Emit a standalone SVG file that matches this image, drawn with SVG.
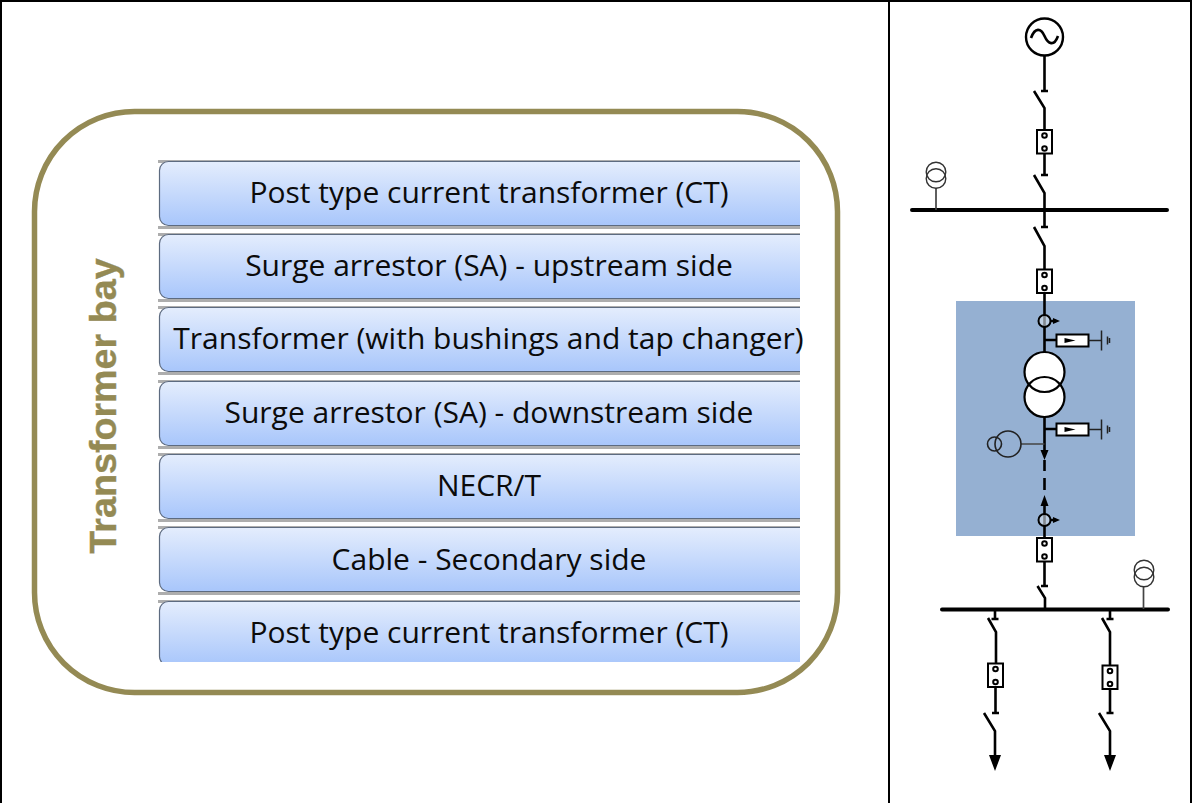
<svg xmlns="http://www.w3.org/2000/svg" xmlns:xlink="http://www.w3.org/1999/xlink" width="1192" height="803" viewBox="0 0 1192 803">
<style>
.bar{fill:url(#barfill);stroke:#5d6b80;stroke-width:1.2}
.shadow{fill:#8a8a8a;opacity:.7}
.t{font-family:"Open Sans","Noto Sans",sans-serif;font-size:30px;fill:#0b0b0b;text-anchor:middle}
.w{fill:none;stroke:#000;stroke-width:2.6}
.thin{fill:none;stroke:#333;stroke-width:1.4}
.box{fill:#fff;stroke:#000;stroke-width:2}
.bus{fill:none;stroke:#000;stroke-width:4;stroke-linecap:round}
.k{fill:#000}
.dot{fill:#fff;stroke:#000;stroke-width:2}
</style>
<defs>
<linearGradient id="barfill" x1="0" y1="0" x2="0" y2="1"><stop offset="0" stop-color="#e4edfd"/><stop offset="1" stop-color="#a8c6fb"/></linearGradient>
<clipPath id="clip"><rect x="150" y="150" width="650" height="512"/></clipPath>
<g id="fuse"><rect class="box" x="-7.500" y="0" width="15" height="23.500"/><circle class="dot" cx="0" cy="5.500" r="2.300"/><circle class="dot" cx="0" cy="18.500" r="2.300"/></g>
<g id="arr"><rect class="box" x="0" y="-6" width="32" height="12"/><path class="k" d="M8-2.500L19 0L8 2.500Z"/><path d="M32 0H45M45-10V10M51-4V4M53-2.500V2.500" fill="none" stroke="#222" stroke-width="1.500"/></g>
</defs>
<g id="frame" fill="none" stroke="#000" stroke-width="2"><path d="M1 803V1H1191V803M889 1V803"/></g>
<g id="transformer-bay">
<rect x="34.500" y="111.500" width="803" height="581" rx="100" fill="#fff" stroke="#948a54" stroke-width="5.500"/>
<text transform="translate(116 406) rotate(-90)" font-family="'Liberation Sans',sans-serif" font-weight="700" font-size="37.700" fill="#948a54" text-anchor="middle" stroke="#948a54" stroke-width=".4">Transformer bay</text>
</g>
<g clip-path="url(#clip)">
<g id="n1"><rect class="shadow" x="158" y="160" width="660" height="3"/><rect class="shadow" x="158" y="226" width="660" height="3"/><rect class="bar" x="159.500" y="161.500" width="660" height="64" rx="9"/><text class="t" x="489" y="203">Post type current transformer (CT)</text></g>
<g id="n2"><rect class="shadow" x="158" y="233" width="660" height="3"/><rect class="shadow" x="158" y="299" width="660" height="3"/><rect class="bar" x="159.500" y="234.500" width="660" height="64" rx="9"/><text class="t" x="489" y="276">Surge arrestor (SA) - upstream side</text></g>
<g id="n3"><rect class="shadow" x="158" y="306" width="660" height="3"/><rect class="shadow" x="158" y="372" width="660" height="3"/><rect class="bar" x="159.500" y="307.500" width="660" height="64" rx="9"/></g>
<g id="n4"><rect class="shadow" x="158" y="380" width="660" height="3"/><rect class="shadow" x="158" y="446" width="660" height="3"/><rect class="bar" x="159.500" y="381.500" width="660" height="64" rx="9"/><text class="t" x="489" y="423">Surge arrestor (SA) - downstream side</text></g>
<g id="n5"><rect class="shadow" x="158" y="453" width="660" height="3"/><rect class="shadow" x="158" y="519" width="660" height="3"/><rect class="bar" x="159.500" y="454.500" width="660" height="64" rx="9"/><text class="t" x="489" y="496">NECR/T</text></g>
<g id="n6"><rect class="shadow" x="158" y="526" width="660" height="3"/><rect class="shadow" x="158" y="592" width="660" height="3"/><rect class="bar" x="159.500" y="527.500" width="660" height="64" rx="9"/><text class="t" x="489" y="570">Cable - Secondary side</text></g>
<g id="n7"><rect class="shadow" x="158" y="600" width="660" height="3"/><rect class="bar" x="159.500" y="601.500" width="660" height="64" rx="9"/><text class="t" x="489" y="643">Post type current transformer (CT)</text></g>
</g>
<g id="n3-label"><text class="t" x="488.500" y="349">Transformer (with bushings and tap changer)</text></g>
<g id="bay-highlight"><rect x="956" y="301" width="179" height="235" fill="#95b0d2"/></g>
<g id="connectors">
<path class="w" d="M1044.500 55V91M1041 91H1048M1034 91L1044.500 108V130M1044.500 153V175M1041 175H1048M1034 175L1044.500 193V227M1041 227H1048M1034 227L1044.500 246V269M1044.500 293V354M1044.500 417V450M1044.500 460V471M1044.500 478V490M1044.500 505V538M1044.500 562V585M1041 586H1048M1037.500 586L1045 598V609M1044.500 340H1056M1044.500 429H1056"/>
<path class="w" d="M995 609V619M991.500 619H998.500M988 618L996 632V663M995.500 687V713M992 713H999M984 713L995 731V756M1110 609V619M1106.500 619H1113.500M1102 618L1110 632V665M1110 689V713M1106.500 713H1113.500M1099 713L1110 731V756"/>
<path class="bus" d="M912 210H1167M942 609.500H1168"/>
<path d="M936 188V210M1143.500 587V609M1021 444H1044.500" fill="none" stroke="#444" stroke-width="1.700"/>
<path class="k" d="M1040.500 450H1048.500L1044.500 460ZM1040.500 506H1048.500L1044.500 495ZM989 755H1001L995 771ZM1104 755H1116L1110 771Z"/>
<path class="w" d="M1051 321H1056M1051 520H1056"/>
<path class="k" d="M1053 318L1060 321L1053 324ZM1053 517L1060 520L1053 523Z"/>
</g>
<g id="generator"><circle cx="1044.500" cy="37" r="18.500" fill="#fff" stroke="#000" stroke-width="2.400"/><path class="w" d="M1031 38C1035 27 1041 28 1044.500 36S1054 47 1058 36"/></g>
<g id="vt-1"><circle class="thin" cx="936" cy="172" r="9.800"/><circle class="thin" cx="936" cy="178.500" r="9.800"/></g>
<g id="vt-2"><circle class="thin" cx="1144" cy="570" r="9.800"/><circle class="thin" cx="1144" cy="577" r="9.800"/></g>
<g id="cb-1"><use xlink:href="#fuse" x="1044.500" y="130"/></g>
<g id="cb-2"><use xlink:href="#fuse" x="1044.500" y="269.500"/></g>
<g id="cb-3"><use xlink:href="#fuse" x="1044.500" y="538"/></g>
<g id="cb-4"><use xlink:href="#fuse" x="995.500" y="663.500"/></g>
<g id="cb-5"><use xlink:href="#fuse" x="1110" y="665.500"/></g>
<g id="ct-1"><circle cx="1044.500" cy="321" r="6" fill="#d8e2ee" fill-opacity=".6" stroke="#000" stroke-width="2"/></g>
<g id="ct-2"><circle cx="1044.500" cy="520" r="6" fill="#d8e2ee" fill-opacity=".6" stroke="#000" stroke-width="2"/></g>
<g id="sa-1"><use xlink:href="#arr" x="1056.500" y="340.500"/></g>
<g id="sa-2"><use xlink:href="#arr" x="1056.500" y="429.500"/></g>
<g id="transformer"><circle cx="1044.500" cy="372" r="20" fill="#fff" stroke="#000" stroke-width="2.200"/><circle cx="1044.500" cy="397" r="20" fill="#fff" stroke="#000" stroke-width="2.200"/><path d="M1028.900 384.500A20 20 0 0 0 1060.100 384.500" fill="none" stroke="#000" stroke-width="2.200"/></g>
<g id="necr"><circle cx="1008" cy="444" r="13" fill="none" stroke="#222" stroke-width="1.600"/><circle cx="994.500" cy="444" r="7" fill="none" stroke="#222" stroke-width="1.600"/></g>
</svg>
